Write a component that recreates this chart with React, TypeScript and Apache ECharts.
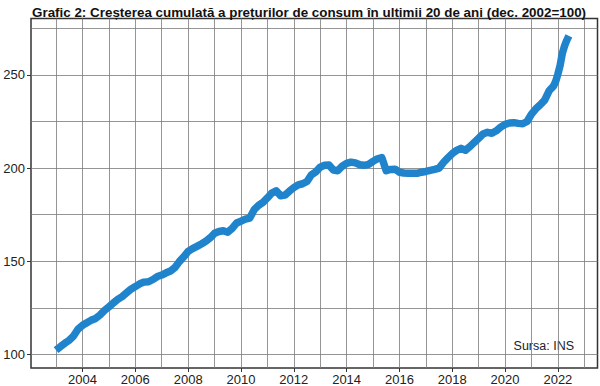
import React, { useEffect, useRef } from "react";
import * as echarts from "echarts";

const dates: string[] = [
  "2003-01","2003-03","2003-05","2003-07","2003-09","2003-11",
  "2004-01","2004-03","2004-05","2004-07","2004-09","2004-11",
  "2005-01","2005-03","2005-05","2005-07","2005-09","2005-11",
  "2006-01","2006-03","2006-05","2006-07","2006-09","2006-11",
  "2007-01","2007-03","2007-05","2007-07","2007-09","2007-11",
  "2008-01","2008-03","2008-05","2008-07","2008-09","2008-11",
  "2009-01","2009-03","2009-05","2009-07","2009-09","2009-11",
  "2010-01","2010-03","2010-05","2010-07","2010-09","2010-11",
  "2011-01","2011-03","2011-05","2011-07","2011-09","2011-11",
  "2012-01","2012-03","2012-05","2012-07","2012-09","2012-11",
  "2013-01","2013-03","2013-05","2013-07","2013-09","2013-11",
  "2014-01","2014-03","2014-05","2014-07","2014-09","2014-11",
  "2015-01","2015-03","2015-05","2015-07","2015-09","2015-11",
  "2016-01","2016-03","2016-05","2016-07","2016-09","2016-11",
  "2017-01","2017-03","2017-05","2017-07","2017-09","2017-11",
  "2018-01","2018-03","2018-05","2018-07","2018-09","2018-11",
  "2019-01","2019-03","2019-05","2019-07","2019-09","2019-11",
  "2020-01","2020-03","2020-05","2020-07","2020-09","2020-11",
  "2021-01","2021-03","2021-05","2021-07","2021-09","2021-11","2021-12",
  "2022-01","2022-02","2022-03","2022-04","2022-05","2022-06",
];

const cpi: number[] = [
  102.3, 104.2, 106.0, 107.6, 110.0, 113.6,
  115.6, 117.0, 118.4, 119.3, 121.2, 123.6,
  125.5, 127.6, 129.5, 131.0, 133.0, 135.0,
  136.4, 137.9, 138.8, 139.0, 140.2, 141.8,
  142.6, 143.8, 144.8, 146.6, 149.8, 152.4,
  155.3, 156.8, 158.0, 159.3, 160.7, 162.6,
  165.0, 166.0, 166.4, 165.6, 167.6, 170.5,
  171.5, 172.6, 173.2, 177.7, 180.0, 181.6,
  184.0, 186.6, 187.8, 185.2, 185.5, 187.6,
  189.5, 191.0, 191.6, 192.8, 196.4, 198.0,
  200.5, 201.5, 201.6, 199.0, 198.6, 201.0,
  202.5, 203.2, 202.8, 201.8, 201.5, 202.0,
  203.6, 205.0, 205.6, 198.6, 199.3, 199.4,
  197.8, 197.4, 197.2, 197.3, 197.2, 197.8,
  198.2, 198.8, 199.3, 200.0, 203.0, 205.5,
  207.8, 209.5, 210.6, 209.6, 211.5, 213.8,
  216.0, 218.3, 219.2, 218.7, 220.0, 222.0,
  223.5, 224.2, 224.4, 224.0, 223.8, 225.0,
  229.0, 231.8, 234.0, 236.5, 241.5, 244.0, 246.5,
  250.5, 255.0, 261.5, 265.5, 268.5, 271.0,
];

const gridYears: number[] = [2003, 2004, 2005, 2006, 2007, 2008, 2009, 2010, 2011, 2012, 2013, 2014, 2015, 2016, 2017, 2018, 2019, 2020, 2021, 2022, 2023];
const xLabelYears: number[] = [2004, 2006, 2008, 2010, 2012, 2014, 2016, 2018, 2020, 2022];
const yGridValues: number[] = [100, 125, 150, 175, 200, 225, 250, 275];
const yLabelValues: number[] = [100, 150, 200, 250];

const titleText = "Grafic 2: Creșterea cumulată a prețurilor de consum în ultimii 20 de ani (dec. 2002=100)";
const sourceText = "Sursa: INS";

const FONT = "'Liberation Sans', Arial, sans-serif";

export default function App() {
  const ref = useRef<HTMLDivElement>(null);
  useEffect(() => {
    if (!ref.current) return;
    const chart = echarts.init(ref.current, undefined, { renderer: "svg" });
    const seriesData = dates.map((d, i) => {
      const [y, m] = d.split("-").map(Number);
      return [y + (m - 1) / 12, cpi[i]];
    });
    const xMin = 2002.05;
    const xMax = 2023.5;
    const yMin = 92.7;
    const yMax = 280.3;
    const gridLine = { show: true, lineStyle: { color: "#7a7a7a", width: 0.8 } };
    chart.setOption({
      animation: false,
      backgroundColor: "#ffffff",
      title: {
        text: titleText,
        left: 27,
        top: 1,
        textStyle: { fontFamily: FONT, fontSize: 13.4, fontWeight: "bold", color: "#111" },
      },
      grid: {
        left: 31,
        right: 2.5,
        top: 18.5,
        bottom: 17.5,
        show: true,
        borderColor: "#333",
        borderWidth: 1.5,
        backgroundColor: "#ffffff",
      },
      xAxis: [
        {
          type: "value",
          min: xMin,
          max: xMax,
          axisLine: { show: false },
          axisTick: { show: false, customValues: gridYears },
          splitLine: gridLine,
          axisLabel: {
            customValues: xLabelYears,
            fontFamily: FONT,
            fontSize: 13,
            color: "#222",
            margin: 5,
            formatter: (v: number) => String(Math.round(v)),
          },
        },
        {
          type: "value",
          position: "bottom",
          min: xMin,
          max: xMax,
          axisLine: { show: false },
          axisTick: { show: true, customValues: xLabelYears, length: 4, lineStyle: { color: "#333", width: 1 } },
          splitLine: { show: false },
          axisLabel: { show: false },
        },
      ],
      yAxis: [
        {
          type: "value",
          min: yMin,
          max: yMax,
          axisLine: { show: false },
          axisTick: { show: false, customValues: yGridValues },
          splitLine: gridLine,
          axisLabel: {
            customValues: yLabelValues,
            fontFamily: FONT,
            fontSize: 13,
            color: "#222",
            margin: 6,
          },
        },
        {
          type: "value",
          position: "left",
          min: yMin,
          max: yMax,
          axisLine: { show: false },
          axisTick: { show: true, customValues: yLabelValues, length: 4, lineStyle: { color: "#333", width: 1 } },
          splitLine: { show: false },
          axisLabel: { show: false },
        },
      ],
      graphic: [
        {
          type: "text",
          right: 26,
          top: 339,
          style: { text: sourceText, font: `12.5px ${FONT}`, fill: "#222" },
        },
      ],
      series: [
        {
          type: "line",
          xAxisIndex: 0,
          yAxisIndex: 0,
          data: seriesData,
          showSymbol: false,
          symbol: "none",
          lineStyle: { color: "#1f84cb", width: 7.5, join: "round" },
          smooth: false,
        },
      ],
    });
    return () => chart.dispose();
  }, []);
  return <div ref={ref} style={{ width: 600, height: 386, position: "absolute", left: 0, top: 0 }} />;
}
